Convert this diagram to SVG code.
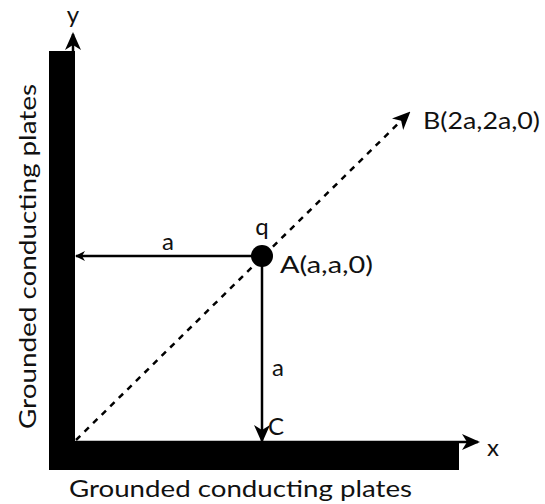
<svg xmlns="http://www.w3.org/2000/svg" width="545" height="504" viewBox="0 0 545 504">
<style>
text{font-family:Lato,"Liberation Sans","DejaVu Sans",sans-serif;fill:#111}
.lbl{font-size:24px}
.ln{stroke:#000;stroke-width:2.5;fill:none}
</style>
<defs>
<marker id="ah" markerWidth="10" markerHeight="10" refX="9" refY="5" orient="auto" markerUnits="userSpaceOnUse" viewBox="0 0 10 10">
<path d="M0,0 L10,5 L0,10 L3,5 Z" fill="#000"/>
</marker>
<marker id="ahb" markerWidth="18" markerHeight="18" refX="16" refY="9" orient="auto" markerUnits="userSpaceOnUse" viewBox="0 0 18 18">
<path d="M0,1 L18,9 L0,17 L5,9 Z" fill="#000"/>
</marker>
</defs>
<g id="plates">
<rect x="49" y="51" width="26" height="419" fill="#000"/>
<rect x="49" y="443" width="410" height="27" fill="#000"/>
</g>
<g id="connectors">
<line class="ln" x1="73" y1="443" x2="73" y2="34" marker-end="url(#ahb)"/>
<line class="ln" x1="73" y1="442" x2="478" y2="442" marker-end="url(#ahb)"/>
<line class="ln" x1="76" y1="440" x2="409" y2="113" stroke-dasharray="6,6" marker-end="url(#ahb)"/>
<line class="ln" x1="262" y1="256" x2="76" y2="256" marker-end="url(#ah)"/>
<line class="ln" x1="262" y1="256" x2="262" y2="441" marker-end="url(#ahb)"/>
</g>
<g id="charge">
<circle cx="262" cy="256" r="11" fill="#000"/>
</g>
<g id="labels">
<text class="lbl" x="73" y="23" text-anchor="middle">y</text>
<text class="lbl" x="487" y="456">x</text>
<text class="lbl" x="423" y="129" textLength="117" lengthAdjust="spacingAndGlyphs">B(2a,2a,0)</text>
<text class="lbl" x="168" y="250" text-anchor="middle">a</text>
<text class="lbl" x="262" y="235" text-anchor="middle">q</text>
<text class="lbl" x="280" y="273" textLength="93" lengthAdjust="spacingAndGlyphs">A(a,a,0)</text>
<text class="lbl" x="278" y="376" text-anchor="middle">a</text>
<text class="lbl" x="268" y="435">C</text>
<text class="lbl" x="69" y="497" textLength="343" lengthAdjust="spacingAndGlyphs">Grounded conducting plates</text>
<text class="lbl" transform="translate(36,429) rotate(-90)" textLength="345" lengthAdjust="spacingAndGlyphs">Grounded conducting plates</text>
</g>
</svg>
